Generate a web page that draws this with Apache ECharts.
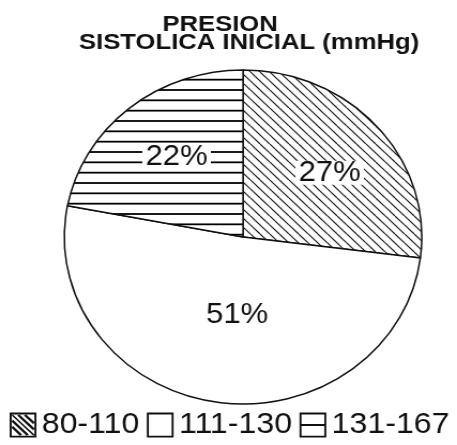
<!DOCTYPE html>
<html>
<head>
<meta charset="utf-8">
<script src="https://cdn.jsdelivr.net/npm/echarts@6/dist/echarts.min.js"></script>
<style>
  html, body { margin: 0; padding: 0; background: #fff; }
  /* the drawing is slightly wider than tall, so the chart box is stretched horizontally */
  #chart { width: 427px; height: 445px; transform: scaleX(1.0703); transform-origin: 0 0; }
</style>
</head>
<body>
<div id="chart"></div>
<script>
// Systolic pressure ranges (mmHg) and share of patients (%)
const ranges = ['80-110', '111-130', '131-167'];
const shares = [27, 51, 22];
const titleLines = ['PRESION', 'SISTOLICA INICIAL (mmHg)'];

const FONT = '"Liberation Sans", Arial, sans-serif';

// Fill textures for the slices
function diagonalTile() {
  const t = 18, c = document.createElement('canvas');
  c.width = t; c.height = t;
  const g = c.getContext('2d');
  g.fillStyle = '#fff'; g.fillRect(0, 0, t, t);
  g.strokeStyle = '#1a1a1a'; g.lineWidth = 1.2;
  for (let o = -t; o <= t; o += t / 2) {
    g.beginPath(); g.moveTo(o, 0); g.lineTo(o + t, t); g.stroke();
  }
  return c;
}
function horizontalTile() {
  const h = 31, c = document.createElement('canvas');
  c.width = 4; c.height = h;
  const g = c.getContext('2d');
  g.fillStyle = '#fff'; g.fillRect(0, 0, 4, h);
  g.strokeStyle = '#000'; g.lineWidth = 1.8;
  [7.33, 17.67, 28].forEach(function (y) {
    g.beginPath(); g.moveTo(0, y); g.lineTo(4, y); g.stroke();
  });
  return c;
}
const fills = [
  { image: diagonalTile(), repeat: 'repeat' },
  '#ffffff',
  { image: horizontalTile(), repeat: 'repeat' }
];

// Legend glyphs: framed square, optionally with diagonal or horizontal bars
const frame = 'M0 0 H20 V20 H0 Z M1.5 1.5 V18.5 H18.5 V1.5 Z';
function diagBars() {
  const a = 1.5, b = 18.5, h = 0.85;
  let p = '';
  [-10, -5, 0, 5, 10].forEach(function (c) {
    const p1 = c >= 0 ? [a + c, a] : [a, a - c];
    const p2 = c >= 0 ? [b, b - c] : [b + c, b];
    const pts = [[p1[0] + h, p1[1] - h], [p2[0] + h, p2[1] - h], [p2[0] - h, p2[1] + h], [p1[0] - h, p1[1] + h]]
      .map(function (q) { return [Math.min(b, Math.max(a, q[0])), Math.min(b, Math.max(a, q[1]))]; });
    p += ' M' + pts.map(function (q) { return q[0].toFixed(2) + ' ' + q[1].toFixed(2); }).join(' L') + ' Z';
  });
  return p;
}
const icons = [
  'path://' + frame + diagBars(),
  'path://' + frame,
  'path://' + frame + ' M1.5 9.2 H18.5 V10.8 H1.5 Z'
];

// Nudges of the percentage labels from their default inside position
const labelShift = [[16, -7], [8, -7], [-7, -13]];

const chart = echarts.init(document.getElementById('chart'), null, { renderer: 'canvas' });
chart.setOption({
  animation: false,
  graphic: [
    { type: 'text', x: 205.6, y: 13.5, scaleX: 1.09,
      style: { text: titleLines[0], font: 'bold 22px ' + FONT, fill: '#111', textAlign: 'center', textVerticalAlign: 'top' } },
    { type: 'text', x: 232.7, y: 32, scaleX: 1.09,
      style: { text: titleLines[1], font: 'bold 22px ' + FONT, fill: '#111', textAlign: 'center', textVerticalAlign: 'top' } }
  ],
  legend: {
    left: 9,
    top: 410,
    width: 418,
    padding: 0,
    itemWidth: 25,
    itemHeight: 25,
    itemGap: 7,
    selectedMode: false,
    itemStyle: { color: '#111', borderWidth: 0 },
    textStyle: { fontSize: 30, color: '#111', fontFamily: FONT },
    data: ranges.map(function (r, i) { return { name: r, icon: icons[i] }; })
  },
  series: [{
    type: 'pie',
    center: [227.1, 237],
    radius: 167,
    startAngle: 90,
    clockwise: true,
    silent: true,
    emphasis: { disabled: true },
    itemStyle: { borderColor: '#111', borderWidth: 1.5 },
    label: {
      show: true,
      position: 'inside',
      formatter: '{c}%',
      fontSize: 29,
      lineHeight: 24,
      color: '#111',
      fontFamily: FONT,
      backgroundColor: '#fff',
      padding: [0, 3]
    },
    labelLayout: function (p) {
      const s = labelShift[p.dataIndex];
      return { dx: s[0], dy: s[1] };
    },
    data: ranges.map(function (r, i) {
      return { name: r, value: shares[i], itemStyle: { color: fills[i] } };
    })
  }]
});
</script>
</body>
</html>
